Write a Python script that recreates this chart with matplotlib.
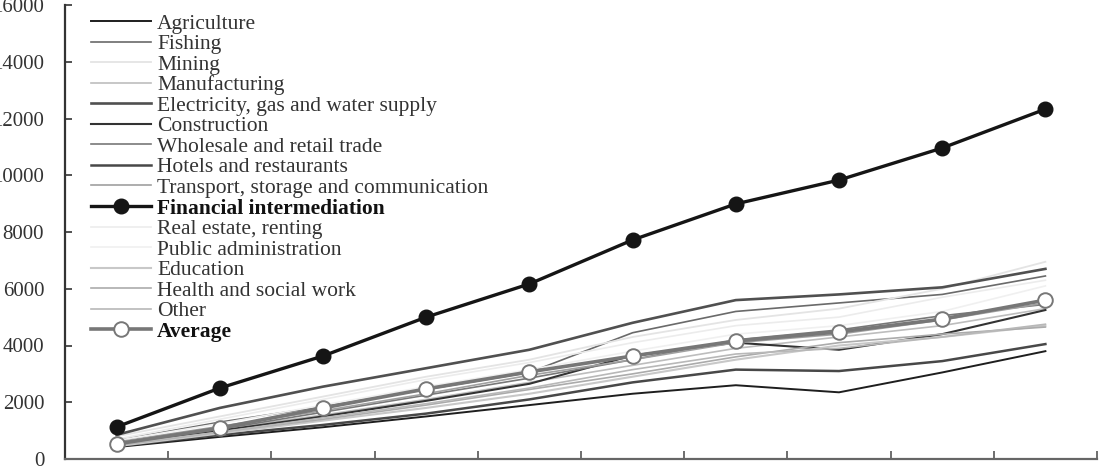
import matplotlib
matplotlib.use("Agg")
import matplotlib.pyplot as plt
import numpy as np

plt.rcParams['font.family'] = ['Liberation Serif', 'DejaVu Serif']

periods = list(range(10))

agriculture   = [420, 780, 1120, 1500, 1900, 2300, 2600, 2350, 3050, 3800]
fishing       = [650, 1300, 1850, 2450, 3050, 4450, 5200, 5500, 5800, 6450]
mining        = [800, 1500, 2200, 2900, 3500, 4300, 4900, 5300, 6000, 6950]
manufacturing = [550, 1050, 1550, 2100, 2700, 3300, 3900, 4300, 4700, 5300]
electricity   = [850, 1800, 2550, 3200, 3850, 4800, 5600, 5800, 6050, 6700]
construction  = [520, 1000, 1500, 2050, 2650, 3650, 4100, 3850, 4400, 5250]
wholesale     = [550, 1050, 1650, 2250, 2850, 3500, 4200, 4550, 5050, 5450]
hotels        = [450, 850, 1200, 1600, 2100, 2700, 3150, 3100, 3450, 4050]
transport     = [600, 1150, 1700, 2300, 2950, 3500, 4100, 4400, 4900, 5500]
financial     = [1130, 2500, 3630, 5000, 6170, 7720, 8990, 9830, 10960, 12330]
real_estate   = [700, 1400, 2100, 2800, 3400, 4100, 4700, 5000, 5700, 6300]
public_admin  = [650, 1250, 1900, 2550, 3150, 3800, 4400, 4700, 5200, 6100]
education     = [450, 900, 1350, 1800, 2300, 2900, 3500, 4000, 4300, 4700]
health        = [480, 950, 1400, 1900, 2450, 3000, 3600, 4100, 4400, 4650]
other         = [500, 950, 1450, 1950, 2500, 3150, 3700, 3900, 4300, 4750]
average       = [530, 1090, 1800, 2470, 3070, 3630, 4160, 4480, 4930, 5600]

y_ticks = [0, 2000, 4000, 6000, 8000, 10000, 12000, 14000, 16000]

series = [
    ("Agriculture", agriculture, "#1e1e1e", 1.4),
    ("Fishing", fishing, "#6a6a6a", 1.2),
    ("Mining", mining, "#e4e4e4", 1.3),
    ("Manufacturing", manufacturing, "#bdbdbd", 1.2),
    ("Electricity, gas and water supply", electricity, "#505050", 1.9),
    ("Construction", construction, "#333333", 1.5),
    ("Wholesale and retail trade", wholesale, "#787878", 1.2),
    ("Hotels and restaurants", hotels, "#484848", 1.8),
    ("Transport, storage and communication", transport, "#a0a0a0", 1.2),
]
series2 = [
    ("Real estate, renting", real_estate, "#ececec", 1.2),
    ("Public administration", public_admin, "#f0f0f0", 1.2),
    ("Education", education, "#c8c8c8", 1.5),
    ("Health and social work", health, "#ababab", 1.2),
    ("Other", other, "#b8b8b8", 1.2),
]

fig = plt.figure(figsize=(11, 4.67), dpi=100)
ax = fig.add_axes([65/1100, 8/467, (1097-65)/1100, (459-5)/467])

handles = []
for name, vals, col, lw in series:
    h, = ax.plot(periods, vals, color=col, lw=lw, label=name)
    handles.append(h)
hf, = ax.plot(periods, financial, color="#151515", lw=2.4, marker="o",
              markersize=10.5, markerfacecolor="#151515", markeredgecolor="#151515",
              label="Financial intermediation", zorder=5)
handles.append(hf)
for name, vals, col, lw in series2:
    h, = ax.plot(periods, vals, color=col, lw=lw, label=name)
    handles.append(h)
ha, = ax.plot(periods, average, color="#777777", lw=2.6, marker="o",
              markersize=10.5, markerfacecolor="white", markeredgecolor="#777777",
              markeredgewidth=1.4, label="Average", zorder=6)
handles.append(ha)

ax.set_xlim(-0.5, 9.5)
ax.set_ylim(0, 16000)
ax.set_yticks(y_ticks)
ax.set_yticklabels([str(v) for v in y_ticks])
ax.set_xticks(np.arange(-0.5, 10, 1.0))
ax.set_xticklabels([])
ax.tick_params(axis='y', direction='in', length=5, width=1.2, pad=15,
               labelsize=15, colors="#333333")
ax.tick_params(axis='x', direction='in', length=6, width=1.2, colors="#555555")
for s in ("top", "right"):
    ax.spines[s].set_visible(False)
ax.spines['left'].set_color("#333333")
ax.spines['left'].set_linewidth(1.6)
ax.spines['bottom'].set_color("#666666")
ax.spines['bottom'].set_linewidth(1.6)

leg = ax.legend(handles=handles, loc="upper left", bbox_to_anchor=(0.017, 1.0),
                frameon=False, fontsize=15.5, handlelength=2.8, handletextpad=0.26,
                labelspacing=0.022, borderaxespad=0.25, borderpad=0.15)
for t in leg.get_texts():
    t.set_color("#333333")
    if t.get_text() in ("Financial intermediation", "Average"):
        t.set_fontweight("bold")
        t.set_color("#111111")

fig.savefig("out.png", dpi=100)
